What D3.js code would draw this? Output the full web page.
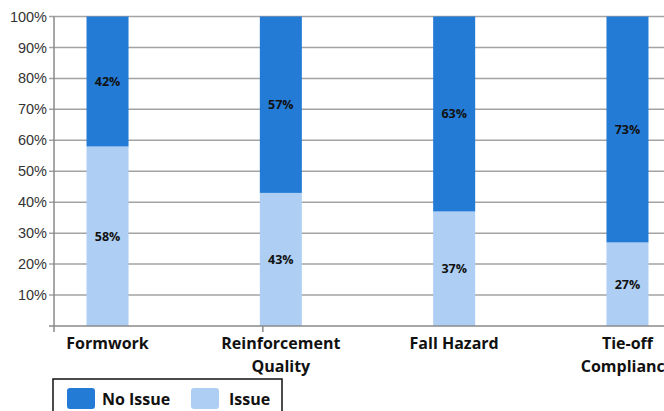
<!DOCTYPE html>
<html><head><meta charset="utf-8">
<script src="https://cdn.jsdelivr.net/npm/d3@7"></script>
<style>body{margin:0;background:#fff}svg{display:block}</style>
</head><body>
<svg id="c" width="664" height="411"></svg>
<script>
const categories = ["Formwork", "Reinforcement Quality", "Fall Hazard", "Tie-off Compliance"];
const categoryLines = [["Formwork"], ["Reinforcement", "Quality"], ["Fall Hazard"], ["Tie-off", "Compliance"]];
const noIssue = [42, 57, 63, 73];
const issue = [58, 43, 37, 27];
const seriesNames = ["No Issue", "Issue"];
const yTicks = [10, 20, 30, 40, 50, 60, 70, 80, 90, 100];

(function () {
const colors = {"No Issue": "#237bd6", "Issue": "#aecff3"};
const svg = d3.select("#c");
const mLeft = 54, mTop = 16.5, mBottom = 326;

const rows = categories.map((c, i) => ({cat: c, "Issue": issue[i], "No Issue": noIssue[i]}));
const stack = d3.stack().keys(["Issue", "No Issue"]);
const series = stack(rows);

const x = d3.scaleBand().domain(categories).range([mLeft, 681]).paddingInner(0.7576).paddingOuter(0.1876);
const y = d3.scaleLinear().domain([0, 100]).range([mBottom, mTop]);

// gridlines
svg.append("g").selectAll("line").data(yTicks).join("line")
  .attr("x1", mLeft - 5).attr("x2", 664)
  .attr("y1", d => y(d)).attr("y2", d => y(d))
  .attr("stroke", "#a3a3a3").attr("stroke-width", 1.5);

// y labels
svg.append("g").selectAll("text").data(yTicks).join("text")
  .attr("x", 47).attr("y", d => y(d)).attr("dy", "0.35em")
  .attr("text-anchor", "end")
  .attr("font-family", "Liberation Sans, Arial, sans-serif")
  .attr("font-size", 14.5).attr("fill", "#333")
  .text(d => d + "%");

// bars
const g = svg.append("g");
series.forEach(s => {
  g.append("g").selectAll("rect").data(s).join("rect")
    .attr("x", d => x(d.data.cat))
    .attr("width", x.bandwidth())
    .attr("y", d => y(d[1]))
    .attr("height", d => y(d[0]) - y(d[1]))
    .attr("fill", colors[s.key]);
  g.append("g").selectAll("text").data(s).join("text")
    .attr("x", d => x(d.data.cat) + x.bandwidth() / 2)
    .attr("y", d => (y(d[0]) + y(d[1])) / 2)
    .attr("dy", "0.35em")
    .attr("text-anchor", "middle")
    .attr("font-family", "Open Sans, sans-serif")
    .attr("font-weight", 700).attr("font-size", 12.5).attr("fill", "#111")
    .text(d => (d[1] - d[0]) + "%");
});

// axes lines
svg.append("line").attr("x1", mLeft).attr("x2", mLeft).attr("y1", mTop).attr("y2", mBottom + 6)
  .attr("stroke", "#8a8a8a").attr("stroke-width", 1.5);
svg.append("line").attr("x1", mLeft - 5).attr("x2", 664).attr("y1", mBottom).attr("y2", mBottom)
  .attr("stroke", "#8a8a8a").attr("stroke-width", 1.5);
svg.append("line").attr("x1", x(categories[1]) + 3).attr("x2", x(categories[1]) + 3).attr("y1", mBottom).attr("y2", mBottom + 6)
  .attr("stroke", "#8a8a8a").attr("stroke-width", 1.5);

// category labels
const cl = svg.append("g");
categories.forEach((c, i) => {
  const t = cl.append("text")
    .attr("x", x(c) + x.bandwidth() / 2)
    .attr("y", 349)
    .attr("text-anchor", "middle")
    .attr("font-family", "Open Sans, sans-serif")
    .attr("font-weight", 700).attr("font-size", 16).attr("fill", "#111");
  categoryLines[i].forEach((ln, j) => {
    t.append("tspan").attr("x", x(c) + x.bandwidth() / 2).attr("dy", j ? 23 : 0).text(ln);
  });
});

// legend
const lg = svg.append("g");
lg.append("rect").attr("x", 53).attr("y", 379).attr("width", 229).attr("height", 50)
  .attr("fill", "#fff").attr("stroke", "#111").attr("stroke-width", 1.5);
const legX = [67, 191];
seriesNames.forEach((n, i) => {
  lg.append("rect").attr("x", legX[i]).attr("y", 388).attr("width", 28).attr("height", 21)
    .attr("rx", 3).attr("fill", colors[n]);
  lg.append("text").attr("x", legX[i] + 35 + (i ? 3 : 0)).attr("y", 399).attr("dy", "0.35em")
    .attr("font-family", "Open Sans, sans-serif")
    .attr("font-weight", 700).attr("font-size", 16).attr("fill", "#111").text(n);
});
})();
</script>
</body></html>
